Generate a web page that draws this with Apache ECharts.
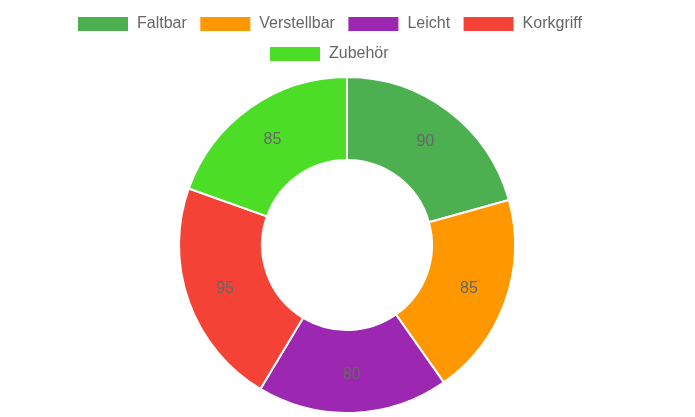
<!DOCTYPE html>
<html>
<head>
<meta charset="utf-8">
<script src="https://cdn.jsdelivr.net/npm/echarts@6/dist/echarts.min.js"></script>
<style>
  html, body { margin: 0; padding: 0; background: #fff; }
  #chart { width: 695px; height: 417px; }
</style>
</head>
<body>
<div id="chart"></div>
<script>
// Daten
const categories = ['Faltbar', 'Verstellbar', 'Leicht', 'Korkgriff', 'Zubehör']
const values = [90, 85, 80, 95, 85]
const colors = ['#4caf50', '#ff9800', '#9c27b0', '#f44336', '#4cde27']

const myChart = echarts.init(document.getElementById('chart'))

const legendCommon = {
  itemWidth: 50,
  itemHeight: 14,
  itemGap: 13.5,
  icon: 'rect',
  itemStyle: { borderWidth: 0 },
  textStyle: { color: '#666', fontSize: 16, padding: [0, 0, 0, 4], fontFamily: 'Liberation Sans, Arial, sans-serif' }
}

const option = {
  color: colors,
  animation: false,
  legend: [
    Object.assign({}, legendCommon, { left: 73, top: 11, data: categories.slice(0, 4) }),
    Object.assign({}, legendCommon, { left: 265, top: 41, data: categories.slice(4) })
  ],
  series: [{
    type: 'pie',
    center: [347, 245],
    radius: [85, 168],
    startAngle: 90,
    clockwise: true,
    itemStyle: { borderColor: '#fff', borderWidth: 2 },
    label: {
      position: 'inner',
      formatter: '{c}',
      color: '#666',
      fontSize: 16,
      fontFamily: 'Liberation Sans, Arial, sans-serif'
    },
    labelLine: { show: false },
    emphasis: { scale: false },
    data: categories.map((name, i) => ({ name, value: values[i] }))
  }]
}

myChart.setOption(option)
window.onresize = function() {
  myChart.resize()
}
</script>
</body>
</html>
